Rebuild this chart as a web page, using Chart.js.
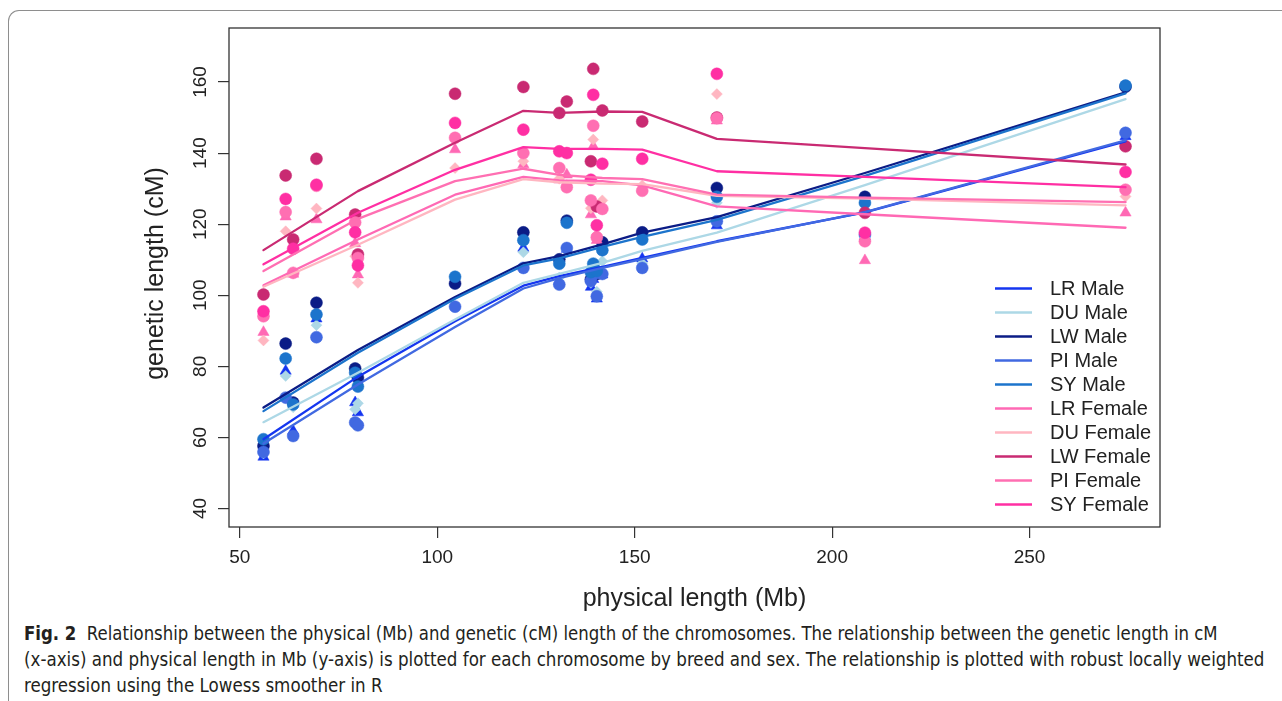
<!DOCTYPE html>
<html>
<head>
<meta charset="utf-8">
<title>Physical vs genetic length</title>
<script src="https://cdn.jsdelivr.net/npm/chart.js@4.4.1/dist/chart.umd.min.js"></script>
<style>
  html, body { margin: 0; padding: 0; background: #fff; }
  body { width: 1282px; height: 701px; position: relative; overflow: hidden; font-family: "Liberation Sans", Arial, sans-serif; }
  .frame { position: absolute; left: 8px; top: 10px; width: 1400px; height: 800px;
           border-top: 1.5px solid #8e8e8e; border-left: 1.5px solid #8e8e8e; border-top-left-radius: 11px; }
  #plot { position: absolute; left: 0; top: 0; }
  .caption { position: absolute; left: 24px; top: 620px; font-family: "Liberation Sans Narrow", "DejaVu Sans Condensed", "Liberation Sans", sans-serif;
             font-size: 19px; line-height: 26px; color: #231f20; }
  .caption div { white-space: nowrap; transform-origin: 0 50%; }
  .caption b { font-weight: bold; }
</style>
</head>
<body>
<div class="frame"></div>
<canvas id="plot" width="1282" height="620"></canvas>
<div class="caption">
  <div class="cap-line" data-end="1251"><b>Fig. 2</b>&nbsp; Relationship between the physical (Mb) and genetic (cM) length of the chromosomes. The relationship between the genetic length in cM</div>
  <div class="cap-line" data-end="1264">(x-axis) and physical length in Mb (y-axis) is plotted for each chromosome by breed and sex. The relationship is plotted with robust locally weighted</div>
  <div class="cap-line">regression using the Lowess smoother in R</div>
</div>
<script>
// chromosome lengths (Mb), sorted: SSC18,12,17,10,11,16,5,7,4,3,8,9,15,14,2,6,13,1
const physLen = [55.98, 61.6, 63.5, 69.4, 79.2, 79.9, 104.5, 121.8, 130.9, 132.8, 138.9, 139.5, 140.4, 141.8, 151.9, 170.8, 208.3, 274.3];

// genetic length (cM) per chromosome, one array per breed/sex
const lrMale   = [54.5, 78.7, 61.8, 93.4, 69.8, 67.0, 104.0, 113.3, 104.0, 113.0, 102.3, 104.5, 99.0, 105.8, 110.3, 119.6, 116.5, 144.7];
const duMale   = [55.5, 77.3, 68.5, 91.6, 67.9, 69.6, 104.5, 112.1, 105.0, 112.5, 103.5, 106.0, 101.0, 109.6, 109.0, 126.0, 125.5, 158.5];
const lwMale   = [57.6, 86.4, 69.8, 97.9, 79.4, 76.8, 103.3, 117.7, 110.1, 121.0, 104.5, 107.0, 106.0, 114.9, 117.7, 130.2, 127.7, 158.7];
const piMale   = [55.9, 71.2, 60.4, 88.2, 64.2, 63.4, 96.8, 107.7, 103.0, 113.3, 104.0, 105.8, 99.7, 106.0, 107.7, 120.8, 117.0, 145.7];
const syMale   = [59.5, 82.2, 69.3, 94.6, 78.2, 74.3, 105.2, 115.5, 108.9, 120.4, 106.5, 108.9, 106.8, 112.7, 115.7, 127.7, 126.0, 159.0];
const lrFemale = [89.6, 122.1, 106.0, 121.3, 114.6, 105.8, 141.0, 136.8, 132.5, 133.9, 122.7, 141.9, 115.5, 124.8, 130.0, 149.1, 109.8, 123.2];
const duFemale = [87.3, 118.0, 106.5, 124.4, 111.0, 103.5, 135.8, 137.7, 132.8, 131.0, 124.5, 143.8, 117.0, 126.7, 130.9, 156.6, 116.0, 127.8];
const lwFemale = [100.2, 133.7, 115.7, 138.4, 122.7, 111.5, 156.7, 158.6, 151.3, 154.5, 137.7, 163.7, 125.0, 152.0, 148.9, 150.0, 123.2, 141.9];
const piFemale = [94.1, 123.4, 106.3, 130.8, 120.5, 110.5, 144.3, 140.0, 135.8, 130.4, 126.7, 147.7, 116.3, 124.3, 129.4, 149.8, 115.2, 129.7];
const syFemale = [95.5, 127.1, 113.1, 131.1, 117.7, 108.4, 148.5, 146.6, 140.5, 140.0, 132.5, 156.4, 119.7, 137.0, 138.4, 162.3, 117.6, 134.7];

// lowess fitted values at selected lengths
const fitLen = [55.98, 79.9, 104.5, 121.8, 130.9, 141.8, 151.9, 170.8, 208.3, 274.3];
const lrMaleFit   = [59.5, 77.1, 92.7, 102.7, 105.4, 108.0, 110.5, 115.2, 123.3, 143.3];
const duMaleFit   = [64.3, 78.2, 93.2, 103.5, 106.0, 109.1, 112.5, 117.6, 131.0, 155.2];
const lwMaleFit   = [68.4, 84.6, 99.5, 109.0, 111.0, 114.3, 117.6, 122.0, 134.4, 157.1];
const piMaleFit   = [58.3, 74.9, 91.1, 101.9, 104.8, 107.7, 110.2, 115.0, 123.4, 143.6];
const syMaleFit   = [67.4, 83.8, 99.0, 108.4, 110.4, 113.6, 116.4, 121.2, 133.6, 156.8];
const lrFemaleFit = [102.8, 115.7, 128.3, 133.3, 132.3, 132.1, 130.9, 125.0, 122.8, 119.0];
const duFemaleFit = [102.4, 114.2, 126.9, 132.7, 131.8, 131.4, 131.3, 128.0, 127.2, 125.3];
const lwFemaleFit = [112.7, 129.3, 142.9, 151.9, 151.3, 151.7, 151.6, 144.0, 141.4, 136.8];
const piFemaleFit = [106.8, 121.5, 132.1, 135.6, 133.9, 133.0, 132.7, 128.3, 127.5, 126.2];
const syFemaleFit = [108.7, 123.2, 135.3, 141.7, 141.2, 141.2, 141.0, 134.9, 133.3, 130.4];

const groupNames = ['LR Male', 'DU Male', 'LW Male', 'PI Male', 'SY Male',
                    'LR Female', 'DU Female', 'LW Female', 'PI Female', 'SY Female'];
const xTicks = [50, 100, 150, 200, 250];
const yTicks = [40, 60, 80, 100, 120, 140, 160];

const groupPoints = [lrMale, duMale, lwMale, piMale, syMale, lrFemale, duFemale, lwFemale, piFemale, syFemale];
const groupFits = [lrMaleFit, duMaleFit, lwMaleFit, piMaleFit, syMaleFit,
                   lrFemaleFit, duFemaleFit, lwFemaleFit, piFemaleFit, syFemaleFit];
const colors = ['#1536F0', '#ADD8E6', '#0B1C86', '#4169E1', '#1C74CC',
                '#FF69B4', '#FFB6C1', '#C92A72', '#FF6FB2', '#FF2FA3'];
// LR = triangle, DU = diamond, the rest filled circles
const shapes = ['triangle', 'rectRot', 'circle', 'circle', 'circle',
                'triangle', 'rectRot', 'circle', 'circle', 'circle'];

const datasets = [];
groupNames.forEach((name, i) => {
    datasets.push({
        type: 'scatter',
        label: name,
        data: physLen.map((x, k) => ({ x: x, y: groupPoints[i][k] })),
        pointStyle: shapes[i],
        pointRadius: shapes[i] === 'rectRot' ? 5.5 : (shapes[i] === 'triangle' ? 6.5 : 6),
        backgroundColor: colors[i],
        borderColor: colors[i],
        pointBorderWidth: 0.5,
        order: 100 - i
    });
});
groupNames.forEach((name, i) => {
    datasets.push({
        type: 'line',
        label: name + ' lowess',
        data: fitLen.map((x, k) => ({ x: x, y: groupFits[i][k] })),
        borderColor: colors[i],
        borderWidth: 2.3,
        pointRadius: 0,
        fill: false,
        tension: 0,
        borderCapStyle: 'round',
        borderJoinStyle: 'round',
        order: 50 - i
    });
});

const AREA = { left: 229, top: 28, right: 1160, bottom: 527 };

// box, rotated y labels, axis titles and the legend, R style
const rDecor = {
    id: 'rDecor',
    afterDraw(chart) {
        const ctx = chart.ctx;
        const a = chart.chartArea;
        const ys = chart.scales.y;
        ctx.save();
        ctx.strokeStyle = '#333';
        ctx.lineWidth = 1.3;
        ctx.strokeRect(a.left, a.top, a.right - a.left, a.bottom - a.top);

        ctx.fillStyle = '#222';
        ctx.font = '19px "Liberation Sans", Arial, sans-serif';
        ctx.textAlign = 'center';
        ctx.textBaseline = 'middle';
        yTicks.forEach(v => {
            const py = ys.getPixelForValue(v);
            ctx.save();
            ctx.translate(201, py);
            ctx.rotate(-Math.PI / 2);
            ctx.fillText(String(v), 0, 0);
            ctx.restore();
        });

        ctx.font = '25px "Liberation Sans", Arial, sans-serif';
        ctx.fillText('physical length (Mb)', (a.left + a.right) / 2, 599);
        ctx.save();
        ctx.translate(156, (a.top + a.bottom) / 2 - 4);
        ctx.rotate(-Math.PI / 2);
        ctx.fillText('genetic length (cM)', 0, 0);
        ctx.restore();

        // legend
        ctx.font = '20px "Liberation Sans", Arial, sans-serif';
        ctx.textAlign = 'left';
        groupNames.forEach((name, i) => {
            const y = 288.5 + i * 24;
            ctx.strokeStyle = colors[i];
            ctx.lineWidth = 2.5;
            ctx.beginPath();
            ctx.moveTo(995, y);
            ctx.lineTo(1032, y);
            ctx.stroke();
            ctx.fillStyle = '#222';
            ctx.fillText(name, 1050, y + 1);
        });
        ctx.restore();
    }
};

new Chart(document.getElementById('plot'), {
    type: 'scatter',
    data: { datasets: datasets },
    options: {
        responsive: false,
        animation: false,
        layout: { padding: { top: AREA.top, right: 1282 - AREA.right, left: 0, bottom: 0 } },
        plugins: { legend: { display: false }, tooltip: { enabled: false } },
        scales: {
            x: {
                type: 'linear',
                min: 47.25,
                max: 283.03,
                afterBuildTicks: s => { s.ticks = xTicks.map(v => ({ value: v })); },
                afterFit: s => { s.height = 620 - AREA.bottom; },
                grid: { drawOnChartArea: false, drawTicks: true, tickLength: 11, color: '#333', lineWidth: 1.2 },
                border: { display: false },
                ticks: { color: '#222', font: { size: 19, family: '"Liberation Sans", Arial, sans-serif' }, padding: 8, maxRotation: 0 }
            },
            y: {
                type: 'linear',
                min: 34.8,
                max: 175.2,
                afterBuildTicks: s => { s.ticks = yTicks.map(v => ({ value: v })); },
                afterFit: s => { s.width = AREA.left; },
                grid: { drawOnChartArea: false, drawTicks: true, tickLength: 11, color: '#333', lineWidth: 1.2 },
                border: { display: false },
                ticks: { display: false }
            }
        }
    },
    plugins: [rDecor]
});

// squeeze the caption lines to their set widths
const capLines = document.querySelectorAll('.cap-line');
let lastScale = 1;
capLines.forEach(el => {
    const end = el.dataset.end;
    const w = el.scrollWidth;
    if (end) lastScale = (Number(end) - 24) / w;
    el.style.transform = 'scaleX(' + lastScale + ')';
});
</script>
</body>
</html>
